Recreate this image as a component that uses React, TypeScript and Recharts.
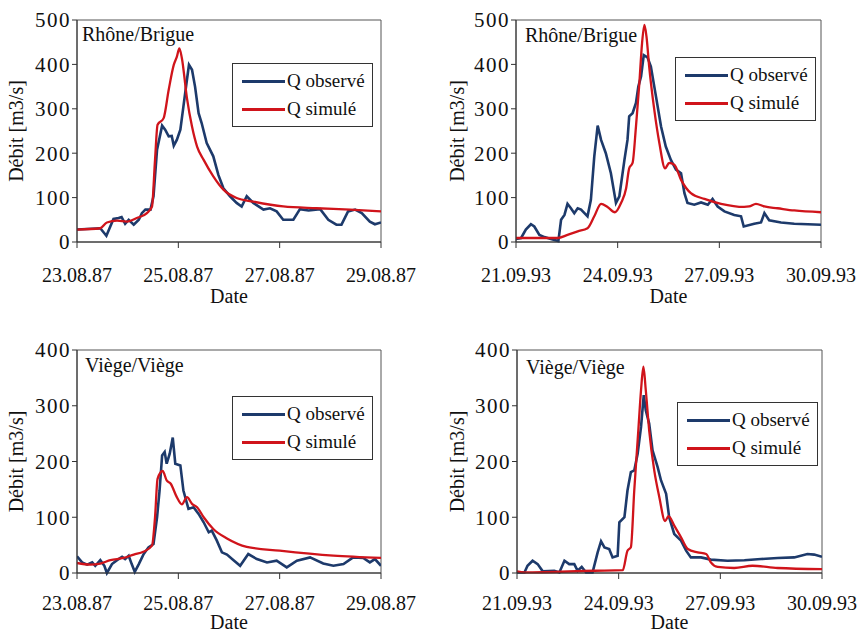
import { LineChart, Line, XAxis, YAxis, ReferenceArea, Legend } from 'recharts'

type Pt = [number, number]

const FONT = '"Liberation Serif", "Times New Roman"'
const OBS = '#1d3a6b'
const SIM = '#d0141b'

const ticks87 = [0, 2, 4, 6]
const labels87 = ['23.08.87', '25.08.87', '27.08.87', '29.08.87']
const ticks93 = [0, 3, 6, 9]
const labels93 = ['21.09.93', '24.09.93', '27.09.93', '30.09.93']
const yTicks500 = [0, 100, 200, 300, 400, 500]
const yTicks400 = [0, 100, 200, 300, 400]

// t = days since first tick, q = m3/s
const rhone87Obs: Pt[] = [
  [0, 28], [0.46, 31], [0.58, 14], [0.72, 52], [0.82, 54], [0.88, 56], [0.95, 41], [1.02, 50],
  [1.12, 39], [1.22, 50], [1.28, 65], [1.35, 73], [1.45, 73], [1.51, 103], [1.58, 208], [1.68, 262],
  [1.74, 253], [1.81, 238], [1.87, 239], [1.91, 217], [1.97, 230], [2.04, 253], [2.1, 305], [2.16, 357],
  [2.21, 399], [2.27, 388], [2.33, 350], [2.4, 290], [2.46, 268], [2.56, 223], [2.69, 193], [2.79, 151],
  [2.89, 121], [3.02, 103], [3.15, 88], [3.25, 80], [3.35, 103], [3.48, 88], [3.68, 73], [3.81, 76],
  [3.94, 69], [4.07, 50], [4.27, 50], [4.4, 74], [4.57, 71], [4.8, 74], [4.96, 50], [5.12, 39],
  [5.22, 39], [5.35, 69], [5.49, 73], [5.62, 65], [5.78, 46], [5.88, 40], [6, 44],
]
const rhone87Sim: Pt[] = [
  [0, 28], [0.46, 31], [0.59, 44], [0.79, 48], [0.99, 46], [1.18, 54], [1.38, 65], [1.48, 80],
  [1.54, 185], [1.59, 264], [1.71, 279], [1.81, 343], [1.91, 399], [1.97, 417], [2.02, 436], [2.07, 414],
  [2.17, 324], [2.27, 260], [2.37, 215], [2.5, 185], [2.69, 148], [2.89, 118], [3.15, 99], [3.48, 91],
  [4.07, 80], [4.73, 76], [5.39, 73], [6, 69],
]

const rhone93Obs: Pt[] = [
  [0, 7], [0.15, 9], [0.29, 28], [0.44, 40], [0.54, 35], [0.69, 16], [0.84, 11], [1.03, 7],
  [1.25, 2], [1.33, 50], [1.43, 61], [1.52, 86], [1.62, 76], [1.72, 65], [1.82, 76], [1.92, 73],
  [2.02, 65], [2.11, 58], [2.21, 95], [2.31, 193], [2.41, 262], [2.51, 230], [2.65, 200], [2.8, 155],
  [2.95, 88], [3.05, 103], [3.2, 185], [3.29, 230], [3.34, 283], [3.44, 290], [3.54, 313], [3.61, 350],
  [3.69, 373], [3.77, 421], [3.88, 416], [3.98, 395], [4.13, 328], [4.28, 260], [4.42, 215], [4.57, 185],
  [4.72, 163], [4.87, 155], [4.97, 110], [5.06, 88], [5.26, 84], [5.46, 89], [5.66, 84], [5.8, 97],
  [5.95, 80], [6.15, 69], [6.44, 61], [6.64, 58], [6.72, 35], [7.03, 41], [7.23, 44], [7.33, 65],
  [7.47, 49], [7.82, 44], [8.21, 41], [8.61, 40], [9, 39],
]
const rhone93Sim: Pt[] = [
  [0, 9], [1.23, 9], [1.52, 16], [1.82, 24], [2.11, 31], [2.31, 58], [2.51, 86], [2.7, 79],
  [2.92, 67], [3.1, 88], [3.25, 121], [3.34, 166], [3.44, 178], [3.54, 260], [3.64, 358], [3.72, 448],
  [3.79, 489], [3.85, 463], [3.93, 395], [4.08, 298], [4.23, 223], [4.4, 166], [4.52, 178], [4.67, 174],
  [4.87, 140], [5.16, 110], [5.56, 97], [6.05, 86], [6.73, 79], [6.88, 80], [7.08, 86], [7.33, 80],
  [7.72, 76], [8.21, 71], [9, 67],
]

const viege87Obs: Pt[] = [
  [0, 30], [0.1, 19], [0.2, 15], [0.3, 19], [0.36, 13], [0.46, 23], [0.54, 13], [0.59, 0],
  [0.69, 16], [0.79, 23], [0.89, 29], [0.95, 25], [1.02, 31], [1.08, 16], [1.14, 2], [1.22, 16],
  [1.31, 33], [1.41, 46], [1.51, 52], [1.58, 100], [1.63, 148], [1.68, 211], [1.73, 217], [1.77, 196],
  [1.83, 214], [1.89, 243], [1.94, 196], [2.04, 193], [2.1, 148], [2.2, 115], [2.3, 118], [2.4, 106],
  [2.5, 91], [2.6, 73], [2.66, 76], [2.76, 58], [2.86, 37], [2.96, 33], [3.09, 23], [3.22, 13],
  [3.38, 34], [3.55, 25], [3.75, 19], [3.94, 22], [4.14, 10], [4.34, 22], [4.6, 28], [4.86, 17],
  [5.06, 13], [5.26, 16], [5.45, 28], [5.65, 27], [5.78, 19], [5.88, 25], [6, 13],
]
const viege87Sim: Pt[] = [
  [0, 18], [0.26, 15], [0.46, 17], [0.66, 23], [0.92, 27], [1.12, 33], [1.31, 38], [1.48, 49],
  [1.54, 100], [1.59, 169], [1.69, 183], [1.77, 166], [1.85, 160], [1.97, 136], [2.07, 123], [2.17, 136],
  [2.27, 124], [2.37, 118], [2.5, 100], [2.69, 79], [2.96, 62], [3.35, 47], [4.0, 40], [5.06, 31],
  [6, 27],
]

const viege93Obs: Pt[] = [
  [0, 1], [0.22, 1], [0.31, 13], [0.46, 22], [0.61, 16], [0.76, 3], [1.1, 4], [1.25, 1],
  [1.4, 22], [1.54, 16], [1.69, 16], [1.79, 4], [1.91, 11], [2.04, 1], [2.23, 1], [2.38, 37],
  [2.48, 57], [2.58, 46], [2.72, 43], [2.82, 28], [2.97, 31], [3.02, 91], [3.17, 100], [3.26, 148],
  [3.36, 181], [3.46, 184], [3.56, 214], [3.66, 262], [3.74, 319], [3.8, 292], [3.9, 268], [4.0, 220],
  [4.15, 190], [4.25, 166], [4.4, 142], [4.49, 100], [4.64, 70], [4.84, 58], [4.99, 40], [5.13, 28],
  [5.43, 28], [5.72, 24], [6.21, 22], [6.71, 23], [7.2, 25], [7.69, 27], [8.18, 28], [8.57, 34],
  [8.77, 33], [9, 29],
]
const viege93Sim: Pt[] = [
  [0, 3], [0.22, 1], [2.28, 4], [3.12, 5], [3.26, 40], [3.36, 46], [3.46, 148], [3.58, 256],
  [3.66, 328], [3.73, 370], [3.8, 328], [3.9, 256], [4.05, 184], [4.2, 136], [4.37, 93], [4.47, 102],
  [4.64, 85], [4.84, 64], [5.04, 43], [5.33, 37], [5.58, 34], [5.72, 19], [5.92, 11], [6.41, 9],
  [6.95, 13], [7.69, 9], [9, 7],
]

const rows = (pts: Pt[]) => pts.map(([t, q]) => ({ t, q }))

const LegendBox = ({ payload }: any) => (
  <div style={{ width: 141, height: 64, boxSizing: 'border-box', border: '1px solid #333', background: '#fff', position: 'relative', fontFamily: FONT, fontSize: 19, color: '#111' }}>
    {(payload || []).map((p: any, i: number) => (
      <div key={p.value} style={{ position: 'absolute', left: 9, top: i === 0 ? 5 : 33, height: 24, display: 'flex', alignItems: 'center', whiteSpace: 'nowrap' }}>
        <span style={{ display: 'inline-block', width: 43, height: 3, background: p.color }} />
        <span style={{ marginLeft: 2 }}>{p.value}</span>
      </div>
    ))}
  </div>
)

interface PanelProps {
  left: number; top: number; title: string
  obs: Pt[]; sim: Pt[]
  ticks: number[]; labels: string[]
  yTicks: number[]
  plot: { l: number; r: number; t: number; b: number }
  legend: { x: number; y: number }
  yTitleX: number; titleDx: number; titleDy: number; tickGap: number; dateY: number
}

function Panel(p: PanelProps) {
  const xMax = p.ticks[p.ticks.length - 1]
  const yMax = p.yTicks[p.yTicks.length - 1]
  const xh = 317 - p.plot.b
  const txt = { fontSize: 20, fontFamily: FONT, fill: '#111' }
  return (
    <div style={{ position: 'absolute', left: p.left, top: p.top, fontFamily: FONT }}>
      <LineChart width={430} height={317} margin={{ top: p.plot.t, right: 430 - p.plot.r, left: 0, bottom: 0 }} style={{ fontFamily: FONT }}>
        <XAxis
          dataKey="t" type="number" domain={[0, xMax]} ticks={p.ticks} allowDataOverflow
          tickFormatter={(v: number) => p.labels[p.ticks.indexOf(v)] ?? ''}
          height={xh} tickSize={6} tickMargin={p.tickGap} interval={0}
          stroke="#333" tick={txt}
          label={{ value: 'Date', position: 'insideBottom', offset: xh - p.dateY, style: txt }}
        />
        <YAxis
          type="number" domain={[0, yMax]} ticks={p.yTicks} width={p.plot.l} interval={0}
          tickSize={5} tickMargin={1} stroke="#333" tick={{ ...txt, fontSize: 21, letterSpacing: 1.5 }}
          label={(lp: any) => {
            const vb = lp.viewBox || { y: p.plot.t, height: p.plot.b - p.plot.t }
            const cy = vb.y + vb.height / 2
            return (
              <text x={p.yTitleX} y={cy} transform={`rotate(-90, ${p.yTitleX}, ${cy})`} textAnchor="middle" dominantBaseline="central" style={txt}>
                Débit [m3/s]
              </text>
            )
          }}
        />
        <ReferenceArea
          x1={0} x2={xMax} y1={0} y2={yMax} fill="none" stroke="#555" strokeWidth={1} ifOverflow="visible"
          label={(lp: any) => {
            const vb = lp.viewBox || { x: p.plot.l, y: p.plot.t }
            return (
              <text x={vb.x + p.titleDx} y={vb.y + p.titleDy} style={txt}>{p.title}</text>
            )
          }}
        />
        <Line data={rows(p.obs)} dataKey="q" name="Q observé" stroke={OBS} strokeWidth={2.6} dot={false} type="linear" isAnimationActive={false} />
        <Line data={rows(p.sim)} dataKey="q" name="Q simulé" stroke={SIM} strokeWidth={2.3} dot={false} type="monotone" isAnimationActive={false} />
        <Legend
          layout="horizontal" verticalAlign="middle" align="center"
          wrapperStyle={{ left: p.legend.x, top: p.legend.y, width: 141, height: 64 }}
          content={(lp: any) => <LegendBox payload={lp.payload} />}
        />
      </LineChart>
    </div>
  )
}

export default function App() {
  return (
    <div style={{ position: 'absolute', left: 0, top: 0, width: 858, height: 634, background: '#fff', overflow: 'hidden' }}>
      <Panel left={0} top={0} title="Rhône/Brigue" obs={rhone87Obs} sim={rhone87Sim} ticks={ticks87} labels={labels87}
        yTicks={yTicks500} plot={{ l: 77, r: 381, t: 20, b: 242 }} legend={{ x: 232, y: 63 }}
        yTitleX={16} titleDx={5} titleDy={21} tickGap={20} dateY={61} />
      <Panel left={428} top={0} title="Rhône/Brigue" obs={rhone93Obs} sim={rhone93Sim} ticks={ticks93} labels={labels93}
        yTicks={yTicks500} plot={{ l: 88, r: 393, t: 20, b: 242 }} legend={{ x: 247, y: 57 }}
        yTitleX={29} titleDx={9} titleDy={22} tickGap={20} dateY={61} />
      <Panel left={0} top={317} title="Viège/Viège" obs={viege87Obs} sim={viege87Sim} ticks={ticks87} labels={labels87}
        yTicks={yTicks400} plot={{ l: 77, r: 381, t: 33, b: 256 }} legend={{ x: 232, y: 79 }}
        yTitleX={16} titleDx={8} titleDy={22} tickGap={17} dateY={56} />
      <Panel left={428} top={317} title="Viège/Viège" obs={viege93Obs} sim={viege93Sim} ticks={ticks93} labels={labels93}
        yTicks={yTicks400} plot={{ l: 89, r: 394, t: 33, b: 256 }} legend={{ x: 249, y: 85 }}
        yTitleX={29} titleDx={9} titleDy={24} tickGap={17} dateY={56} />
    </div>
  )
}
